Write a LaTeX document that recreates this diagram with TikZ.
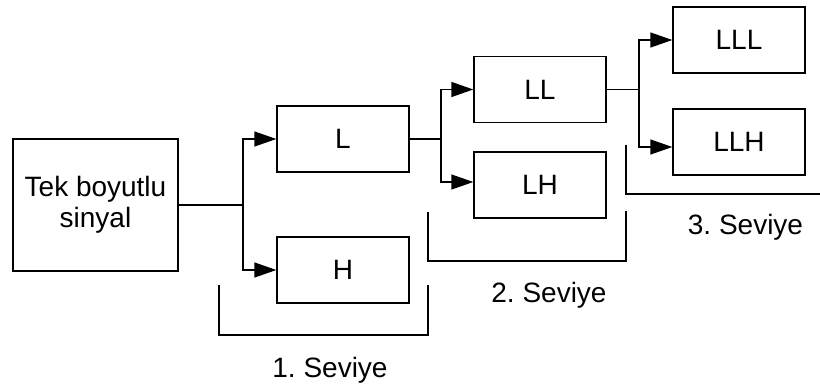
\documentclass[tikz,border=0pt]{standalone}
\usepackage{fontspec}
\setmainfont{Liberation Sans}
\usetikzlibrary{arrows.meta}
\begin{document}
\frenchspacing
\begin{tikzpicture}[x=1pt,y=-1pt,
  line width=1.4pt,
  every node/.style={font=\fontsize{28}{31}\selectfont},
  blk/.style={draw, minimum width=132pt, minimum height=66pt, inner sep=0pt},
  arr/.style={-{Triangle[length=22pt,width=15pt]}},
  lbl/.style={anchor=base, inner sep=0pt}]
\useasboundingbox (0,0) rectangle (820,385);

% blocks
\node[blk, minimum width=165pt, minimum height=132pt, align=center] (src) at (95.5,205) {Tek boyutlu\\sinyal};
\node[blk] (L)   at (343,139)  {L};
\node[blk] (H)   at (343,270)  {H};
\node[blk] (LL)  at (540,89.5) {LL};
\node[blk] (LH)  at (540,185)  {LH};
\node[blk] (LLL) at (739,40)   {LLL};
\node[blk] (LLH) at (739,142)  {LLH};

% branch points
\coordinate (j1) at (243,205);
\coordinate (j2) at (441,139);
\coordinate (j3) at (639,89.5);

% first split
\draw (src.east) -- (j1);
\draw[arr] (j1) |- (L.west);
\draw[arr] (j1) |- (H.west);

% second split
\draw (L.east) -- (j2);
\draw[arr] (j2) |- (LL.west);
\draw[arr] (j2) |- ([yshift=3pt]LH.west);

% third split
\draw (LL.east) -- (j3);
\draw[arr] (j3) |- (LLL.west);
\draw[arr] (j3) |- ([yshift=-5pt]LLH.west);

% level brackets
\draw (219,285) -- (219,335) -- (428,335) -- (428,285);
\draw (428,212) -- (428,261) -- (626,261) -- (626,211);
\draw (626,145) -- (626,194) -- (820,194);

% level labels
\node[lbl] (lv1) at (330,377)   {1. Seviye};
\node[lbl] (lv2) at (549,302)   {2. Seviye};
\node[lbl] (lv3) at (745.5,235) {3. Seviye};
\end{tikzpicture}
\end{document}
